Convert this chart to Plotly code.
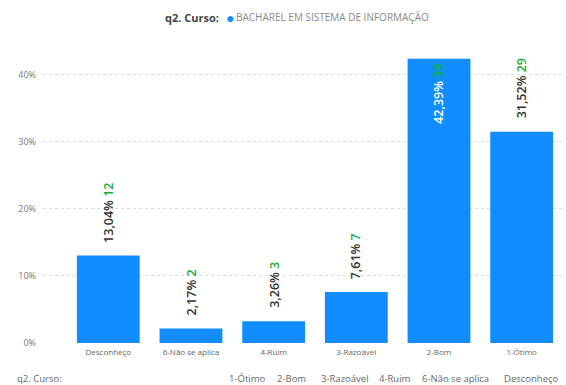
import plotly.graph_objects as go

categories = ["Desconheço", "6-Não se aplica", "4-Ruim", "3-Razoável", "2-Bom", "1-Ótimo"]
percent = [13.04, 2.17, 3.26, 7.61, 42.39, 31.52]
counts = [12, 2, 3, 7, 39, 29]
slicer_items = ["1-Ótimo", "2-Bom", "3-Razoável", "4-Ruim", "6-Não se aplica", "Desconheço"]
y_ticks = [0, 10, 20, 30, 40]

BAR = "#118DFF"
GREEN = "#1AAB40"
FONT = "Open Sans, Noto Sans, sans-serif"

W, H = 566, 385
ML, MR, MT, MB = 43, 3, 48, 42
PW = W - ML - MR


def px_to_paper_x(px):
    return (px - ML) / PW


fig = go.Figure()
fig.add_trace(go.Bar(x=categories, y=percent, marker=dict(color=BAR, line=dict(width=0)),
                     hoverinfo="skip", showlegend=False))

ymax = 44
annotations = []
for c, p, n in zip(categories, percent, counts):
    pct = f"{p:.2f}".replace(".", ",") + "%"
    inside = p > 38
    tcolor = "white" if inside else "#333333"
    text = f"<span style='color:{tcolor}'>{pct}</span> <span style='color:{GREEN}'>{n}</span>"
    annotations.append(dict(
        x=c, y=p, xref="x", yref="y", text=text, showarrow=False, textangle=-90,
        yanchor="top" if inside else "bottom", yshift=-3 if inside else 11,
        font=dict(family=FONT, size=12.5, weight=600), xanchor="center"))

# legend line at top
top_y = dict(xref="paper", yref="paper", y=1, yanchor="middle", yshift=31, showarrow=False)
annotations.append(dict(**top_y, x=px_to_paper_x(221), xanchor="right", text="<b>q2. Curso:</b>",
                        font=dict(family=FONT, size=11, color="#444444")))
annotations.append(dict(**top_y, x=px_to_paper_x(230), xanchor="center", text="●",
                        font=dict(family=FONT, size=14, color=BAR)))
annotations.append(dict(**top_y, x=px_to_paper_x(234), xanchor="left",
                        text="BACHAREL EM SISTEMA DE INFORMAÇÃO",
                        font=dict(family=FONT, size=10, color="#8a8a8a")))

# bottom slicer-like line
bot = dict(xref="paper", yref="paper", y=0, yanchor="middle", yshift=-35, showarrow=False,
           xanchor="left")
annotations.append(dict(**bot, x=px_to_paper_x(15), text="q2. Curso:",
                        font=dict(family=FONT, size=9.5, color="#666666")))
item_starts = [227, 275, 319, 377, 420, 502]
for item, sx in zip(slicer_items, item_starts):
    annotations.append(dict(**bot, x=px_to_paper_x(sx), text=item,
                            font=dict(family=FONT, size=9.5, color="#666666")))

fig.update_layout(
    width=W, height=H,
    margin=dict(l=ML, r=MR, t=MT, b=MB),
    paper_bgcolor="white", plot_bgcolor="white",
    bargap=0.24,
    font=dict(family=FONT, size=8, color="#777777"),
    xaxis=dict(type="category", range=[-0.79, 5.5], showgrid=False, showline=False,
               ticks="", tickfont=dict(size=8, color="#666666"), ticklabelstandoff=3),
    yaxis=dict(range=[0, ymax], tickvals=y_ticks, ticktext=[f"{v}%" for v in y_ticks],
               showgrid=True, gridcolor="#DADADA", griddash="dot", gridwidth=1,
               zeroline=False, showline=False, ticks="", tickfont=dict(size=9, color="#777777"),
               ticklabelstandoff=6),
    annotations=annotations,
)

fig.write_html("out.html", config={"displayModeBar": False},
               post_script="document.body.style.margin='0px';")
